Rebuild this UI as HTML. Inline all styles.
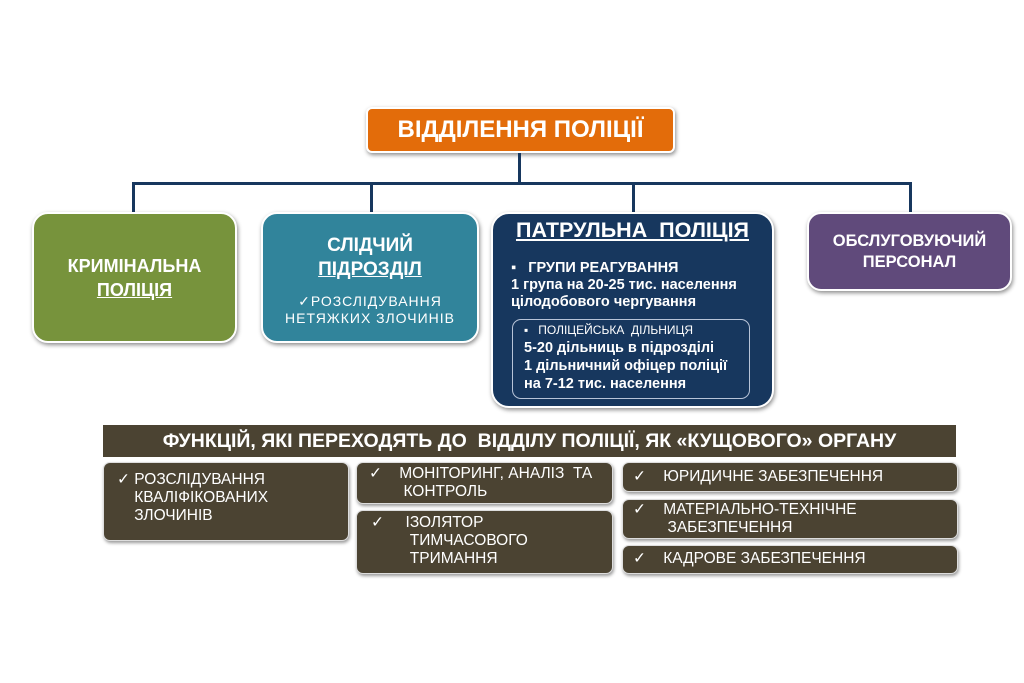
<!DOCTYPE html>
<html><head><meta charset="utf-8"><style>
body{margin:0;width:1024px;height:683px;background:#fff;position:relative;font-family:"Liberation Sans",sans-serif;overflow:hidden}
.b{position:absolute;box-sizing:border-box;color:#fff;border:2px solid #fff;box-shadow:1px 2px 4px rgba(0,0,0,.45)}
.l{position:absolute;background:#17375e}
.o{position:absolute;box-sizing:border-box;background:#4b4332;color:#fff;border-radius:7px;border:1px solid #ddd;box-shadow:1px 2px 3px rgba(0,0,0,.4);font-size:15.5px;line-height:18px;white-space:nowrap}
.c{display:flex;align-items:center;justify-content:center;text-align:center;font-weight:bold}
</style></head><body>
<div class="b c" style="left:366px;top:107px;width:309px;height:46px;background:#e36c0a;border-radius:6px;font-size:24px;"><div>ВІДДІЛЕННЯ ПОЛІЦІЇ</div></div>
<div class="l" style="left:518px;top:153px;width:3px;height:31px"></div>
<div class="l" style="left:132px;top:182px;width:780px;height:3px"></div>
<div class="l" style="left:132px;top:182px;width:3px;height:32px"></div>
<div class="l" style="left:370px;top:182px;width:3px;height:32px"></div>
<div class="l" style="left:632px;top:182px;width:3px;height:32px"></div>
<div class="l" style="left:909px;top:182px;width:3px;height:32px"></div>
<div class="b c" style="left:32px;top:212px;width:205px;height:131px;background:#77933c;border-radius:16px;font-size:18px;line-height:24px"><div>КРИМІНАЛЬНА<br><u>ПОЛІЦІЯ</u></div></div>
<div class="b" style="left:261px;top:212px;width:218px;height:131px;background:#31849b;border-radius:16px;text-align:center;padding-top:20px">
<div style="font-weight:bold;font-size:19px;line-height:24px">СЛІДЧИЙ<br><u>ПІДРОЗДІЛ</u></div>
<div style="font-size:14px;line-height:17px;margin-top:11px;letter-spacing:1px;white-space:nowrap">✓РОЗСЛІДУВАННЯ<br>НЕТЯЖКИХ ЗЛОЧИНІВ</div></div>
<div class="b" style="left:491px;top:212px;width:283px;height:196px;background:#17375e;border-radius:18px;font-weight:bold;padding-left:18px;white-space:nowrap">
<div style="font-size:21.5px;text-align:center;margin:4px 0 0 -18px;text-decoration:underline">ПАТРУЛЬНА&nbsp; ПОЛІЦІЯ</div>
<div style="font-size:14.5px;line-height:17px;margin-top:17px">▪&nbsp;&nbsp; ГРУПИ РЕАГУВАННЯ<br>1 група на 20-25 тис. населення<br>цілодобового чергування</div>
<div style="position:absolute;left:19px;top:105px;width:238px;height:80px;border:1px solid #b8c4d8;border-radius:9px;font-size:14.5px;line-height:18px;padding:1px 0 0 11px;box-sizing:border-box"><span style="font-size:12px;font-weight:normal">▪&nbsp;&nbsp; ПОЛІЦЕЙСЬКА&nbsp; ДІЛЬНИЦЯ</span><br>5-20 дільниць в підрозділі<br>1 дільничний офіцер поліції<br>на 7-12 тис. населення</div></div>
<div class="b c" style="left:807px;top:212px;width:205px;height:79px;background:#604a7b;border-radius:14px;font-size:16.5px;line-height:21px"><div>ОБСЛУГОВУЮЧИЙ<br>ПЕРСОНАЛ</div></div>
<div class="c" style="position:absolute;left:103px;top:425px;width:853px;height:32px;background:#4b4332;color:#fff;font-size:19.5px;white-space:nowrap"><div>ФУНКЦІЙ, ЯКІ ПЕРЕХОДЯТЬ ДО&nbsp; ВІДДІЛУ ПОЛІЦІЇ, ЯК «КУЩОВОГО» ОРГАНУ</div></div>
<div class="o" style="left:103px;top:462px;width:246px;height:79px;padding:8px 0 0 13px">✓ РОЗСЛІДУВАННЯ<br>&nbsp;&nbsp;&nbsp;&nbsp;КВАЛІФІКОВАНИХ<br>&nbsp;&nbsp;&nbsp;&nbsp;ЗЛОЧИНІВ</div>
<div class="o" style="left:356px;top:462px;width:257px;height:42px;padding:2px 0 0 12px">✓&nbsp;&nbsp;&nbsp; МОНІТОРИНГ, АНАЛІЗ&nbsp; ТА<br>&nbsp;&nbsp;&nbsp;&nbsp;&nbsp;&nbsp;&nbsp;&nbsp;КОНТРОЛЬ</div>
<div class="o" style="left:356px;top:510px;width:257px;height:64px;padding:3px 0 0 14px">✓&nbsp;&nbsp;&nbsp;&nbsp; ІЗОЛЯТОР<br>&nbsp;&nbsp;&nbsp;&nbsp;&nbsp;&nbsp;&nbsp;&nbsp;&nbsp;ТИМЧАСОВОГО<br>&nbsp;&nbsp;&nbsp;&nbsp;&nbsp;&nbsp;&nbsp;&nbsp;&nbsp;ТРИМАННЯ</div>
<div class="o" style="left:622px;top:462px;width:336px;height:30px;padding:5px 0 0 10px">✓&nbsp;&nbsp;&nbsp; ЮРИДИЧНЕ ЗАБЕЗПЕЧЕННЯ</div>
<div class="o" style="left:622px;top:499px;width:336px;height:40px;padding:1px 0 0 10px">✓&nbsp;&nbsp;&nbsp; МАТЕРІАЛЬНО-ТЕХНІЧНЕ<br>&nbsp;&nbsp;&nbsp;&nbsp;&nbsp;&nbsp;&nbsp;&nbsp;ЗАБЕЗПЕЧЕННЯ</div>
<div class="o" style="left:622px;top:545px;width:336px;height:29px;padding:4px 0 0 10px">✓&nbsp;&nbsp;&nbsp; КАДРОВЕ ЗАБЕЗПЕЧЕННЯ</div>
</body></html>
